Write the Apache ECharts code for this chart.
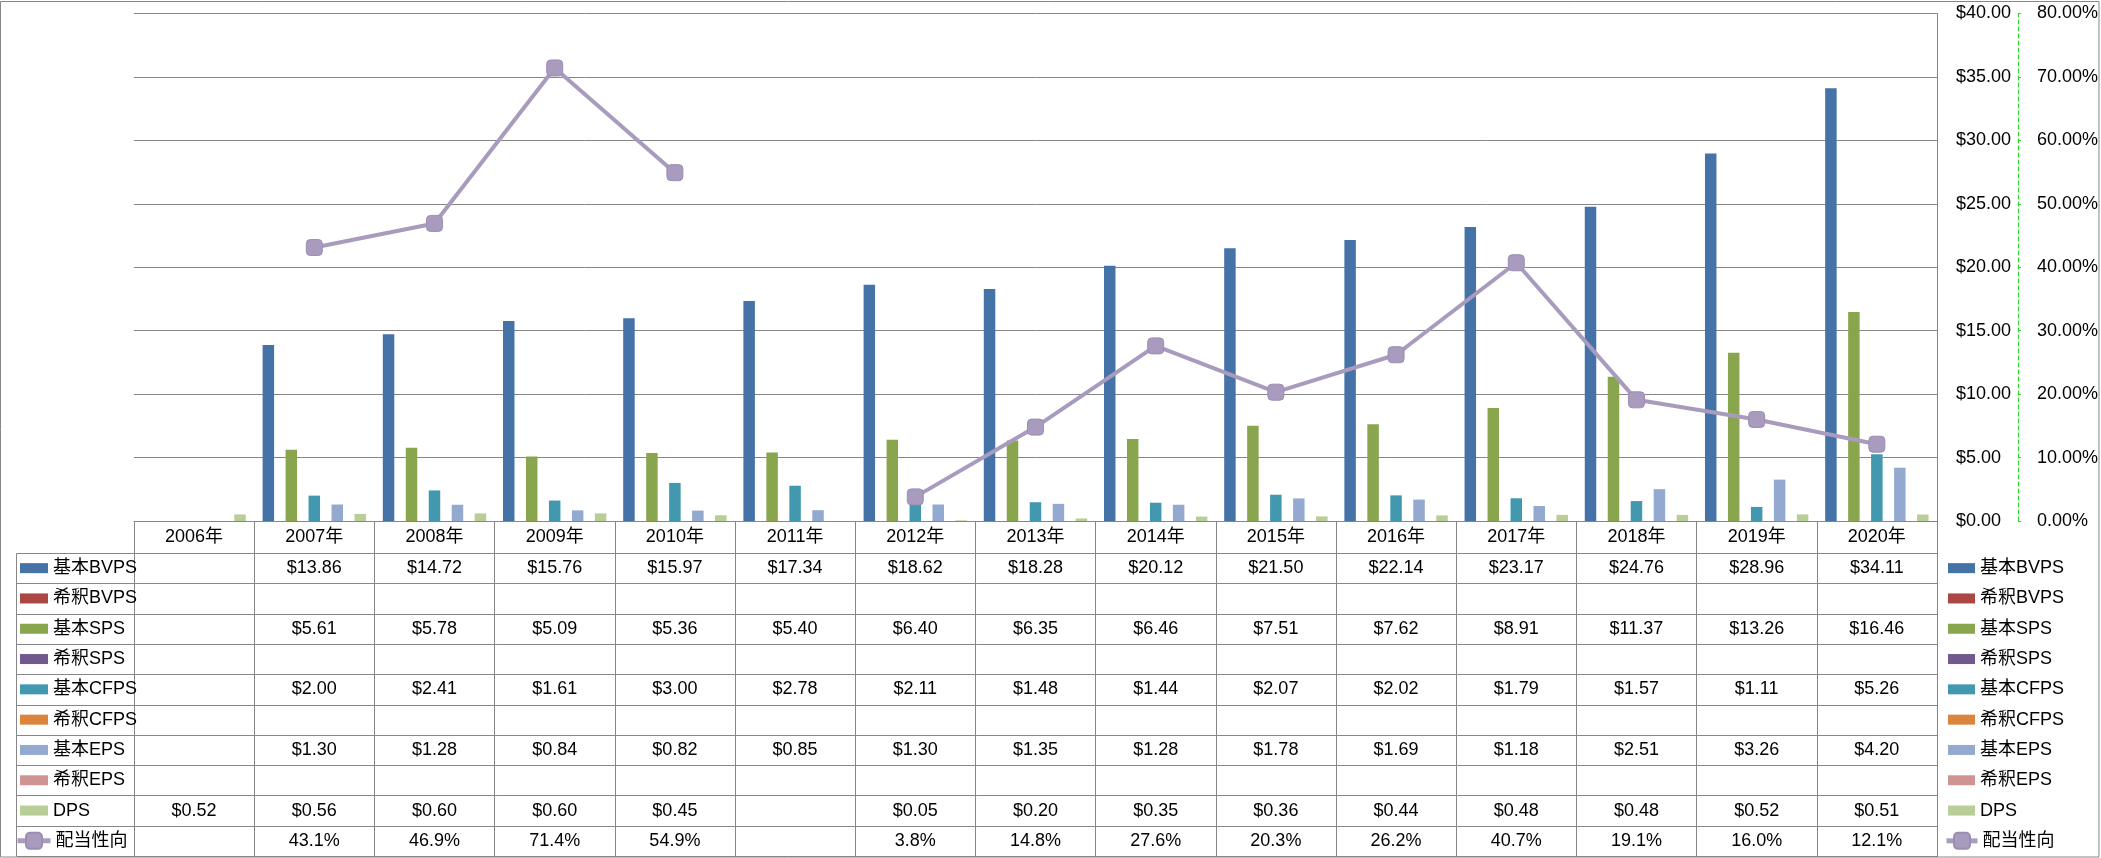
<!DOCTYPE html>
<html><head><meta charset="utf-8">
<script src="https://cdn.jsdelivr.net/npm/echarts@6/dist/echarts.min.js"></script>
<style>html,body{margin:0;padding:0;background:#fff}#c{width:2101px;height:858px}</style>
</head><body><div id="c"></div>
<script>
const years = ['2006年','2007年','2008年','2009年','2010年','2011年','2012年','2013年','2014年','2015年','2016年','2017年','2018年','2019年','2020年'];
const bvpsBasic   = [null,13.86,14.72,15.76,15.97,17.34,18.62,18.28,20.12,21.50,22.14,23.17,24.76,28.96,34.11];
const bvpsDiluted = [null,null,null,null,null,null,null,null,null,null,null,null,null,null,null];
const spsBasic    = [null,5.61,5.78,5.09,5.36,5.40,6.40,6.35,6.46,7.51,7.62,8.91,11.37,13.26,16.46];
const spsDiluted  = [null,null,null,null,null,null,null,null,null,null,null,null,null,null,null];
const cfpsBasic   = [null,2.00,2.41,1.61,3.00,2.78,2.11,1.48,1.44,2.07,2.02,1.79,1.57,1.11,5.26];
const cfpsDiluted = [null,null,null,null,null,null,null,null,null,null,null,null,null,null,null];
const epsBasic    = [null,1.30,1.28,0.84,0.82,0.85,1.30,1.35,1.28,1.78,1.69,1.18,2.51,3.26,4.20];
const epsDiluted  = [null,null,null,null,null,null,null,null,null,null,null,null,null,null,null];
const dps         = [0.52,0.56,0.60,0.60,0.45,null,0.05,0.20,0.35,0.36,0.44,0.48,0.48,0.52,0.51];
const payout      = [null,43.1,46.9,71.4,54.9,null,3.8,14.8,27.6,20.3,26.2,40.7,19.1,16.0,12.1];

const seriesNames = ['基本BVPS','希釈BVPS','基本SPS','希釈SPS','基本CFPS','希釈CFPS','基本EPS','希釈EPS','DPS','配当性向'];
const seriesColors = ['#4572A7','#AA4643','#89A54E','#71588F','#4198AF','#DB843D','#93A9CF','#D19392','#B9CD96','#A99BBD'];
const barRows = [bvpsBasic,bvpsDiluted,spsBasic,spsDiluted,cfpsBasic,cfpsDiluted,epsBasic,epsDiluted,dps];

const FONT = '"Liberation Sans","Noto Sans CJK JP",sans-serif';
const GRAY = '#868686';
const plotL = 134, plotR = 1938, plotT = 13.4, axisY = 521;
const headerB = 553, rowH = 30.3, tblL = 16.5, tblB = 856;

const money = v => (v == null ? '' : '$' + v.toFixed(2));
const pct = v => (v == null ? '' : v.toFixed(1) + '%');
const rowTexts = barRows.map(r => r.map(money)).concat([payout.map(pct)]);

const xAxes = [{
  type:'category', data: years, position:'bottom', gridIndex:0,
  axisLine:{show:true, lineStyle:{color:GRAY, width:1}},
  axisTick:{show:true, length: tblB - axisY, alignWithLabel:false, lineStyle:{color:GRAY, width:1}},
  axisLabel:{interval:0, margin: (axisY + headerB)/2 - axisY, verticalAlign:'middle', fontSize:18, color:'#000', fontFamily:FONT},
  splitLine:{show:false}
}];
rowTexts.forEach((txt, k) => {
  const center = headerB + rowH*k + rowH/2;
  xAxes.push({
    type:'category', data: years, position:'bottom', gridIndex:0,
    axisLine:{show:false}, axisTick:{show:false}, splitLine:{show:false},
    axisLabel:{interval:0, margin: center - axisY, verticalAlign:'middle', fontSize:18, color:'#000', fontFamily:FONT,
      formatter:(v, i) => txt[i]}
  });
});

const series = barRows.map((d, k) => ({
  name: seriesNames[k], type:'bar', data: d, xAxisIndex:0, yAxisIndex:0,
  barGap:'0%', barCategoryGap:'14%', itemStyle:{color: seriesColors[k]}
}));
series.push({
  name: seriesNames[9], type:'line', data: payout, xAxisIndex:0, yAxisIndex:1, connectNulls:false,
  symbol:'roundRect', symbolSize:16, z:5,
  lineStyle:{color: seriesColors[9], width:4},
  itemStyle:{color: seriesColors[9], borderColor:'#9c8db3', borderWidth:1}
});

const graphics = [];
graphics.push({type:'rect', shape:{x:0.5,y:1.5,width:2098.5,height:855.5}, style:{fill:null, stroke:GRAY, lineWidth:1}, silent:true});
for (let k = 0; k <= 10; k++) {
  const y = Math.round(headerB + rowH*k) + 0.5;
  graphics.push({type:'line', shape:{x1:tblL, y1:y, x2:plotR, y2:y}, style:{stroke:GRAY, lineWidth:1}, silent:true});
}
graphics.push({type:'line', shape:{x1:tblL, y1:headerB+0.5, x2:tblL, y2:tblB}, style:{stroke:GRAY, lineWidth:1}, silent:true});

const textStyle = {fontSize:18, color:'#000', fontFamily:FONT, lineHeight:20};
function barLegend(left, w) {
  return {orient:'vertical', left:left, top: headerB + rowH/2 - 10, padding:0, itemGap: rowH - 20,
    itemWidth:w, itemHeight:10, textStyle:textStyle, selectedMode:false,
    data: seriesNames.slice(0,9).map(n => ({name:n, icon:'rect'}))};
}
function lineLegend(left, w) {
  return {orient:'vertical', left:left, top: headerB + rowH*9 + rowH/2 - 10, padding:0,
    itemWidth:w, itemHeight:20, textStyle:textStyle, selectedMode:false,
    data: [{name: seriesNames[9], lineStyle:{width:5, color: seriesColors[9]}}]};
}

const chart = echarts.init(document.getElementById('c'));
chart.setOption({
  animation:false,
  backgroundColor:'#fff',
  textStyle:{fontFamily:FONT},
  grid:{left:plotL, right:2101-plotR, top:plotT, bottom:858-axisY, containLabel:false},
  legend:[barLegend(20, 28), lineLegend(15, 33), barLegend(1948, 27), lineLegend(1944, 31)],
  xAxis: xAxes,
  yAxis:[{
    type:'value', position:'right', min:0, max:40, interval:5,
    axisLine:{show:true, lineStyle:{color:GRAY, width:1}}, axisTick:{show:false},
    splitLine:{show:true, lineStyle:{color:GRAY, width:1}},
    axisLabel:{margin:19, fontSize:18, color:'#000', fontFamily:FONT, formatter: v => '$' + v.toFixed(2)}
  },{
    type:'value', position:'right', offset:81, min:0, max:80, interval:10,
    axisLine:{show:true, lineStyle:{color:'#22dd22', width:1, type:[4,3]}},
    axisTick:{show:true, inside:false, length:3, lineStyle:{color:'#22dd22'}},
    splitLine:{show:false},
    axisLabel:{margin:19, fontSize:18, color:'#000', fontFamily:FONT, formatter: v => v.toFixed(2) + '%'}
  }],
  series: series,
  graphic: graphics
});
</script></body></html>
